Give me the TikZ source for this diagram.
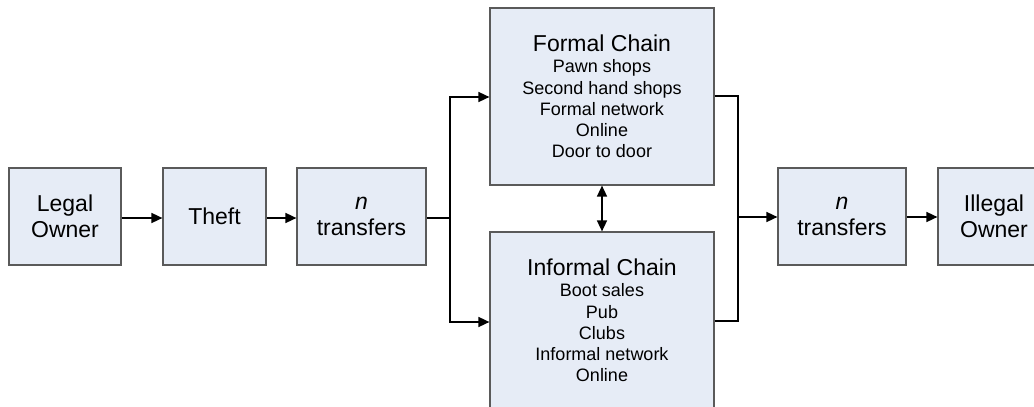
\documentclass[tikz,border=0pt]{standalone}
\usepackage{fontspec}
\setmainfont{Liberation Sans}
\usetikzlibrary{positioning,arrows.meta,calc}
\definecolor{boxfill}{RGB}{230,236,246}
\definecolor{boxline}{RGB}{90,90,90}

\begin{document}
\begin{tikzpicture}[x=1pt,y=-1pt,>={Triangle[length=11pt,width=10pt]},
  stage/.style={draw=boxline,line width=1.2pt,fill=boxfill,align=center,inner sep=0pt,
    minimum height=97pt,font=\fontsize{23}{26.5}\selectfont},
  chain/.style={draw=boxline,line width=1.2pt,fill=boxfill,align=center,inner sep=0pt,
    minimum width=224pt,minimum height=177pt,font=\fontsize{18}{21.2}\selectfont},
  link/.style={->,line width=1.6pt}]
\useasboundingbox (0,0) rectangle (1034,407);
\clip (0,0) rectangle (1034,407);
\node[stage,minimum width=112pt] (legal) at (65,216.5) {Legal\\Owner};
\node[stage,minimum width=103pt] (theft) at (214.5,216.5) {Theft};
\node[stage,minimum width=129pt] (tin) at (361.5,216.5) {\textit{n}\\transfers};
\node[chain] (formal) at (602,96.5) {{\fontsize{23}{22}\selectfont Formal Chain}\\Pawn shops\\Second hand shops\\Formal network\\Online\\Door to door};
\node[chain] (informal) at (602,320.5) {{\fontsize{23}{22}\selectfont Informal Chain}\\Boot sales\\Pub\\Clubs\\Informal network\\Online};
\node[stage,minimum width=128pt] (tout) at (842,216.5) {\textit{n}\\transfers};
\node[stage,minimum width=112pt] (illegal) at (994,216.5) {Illegal\\Owner};
% junctions
\coordinate (split) at (450,218);
\coordinate (merge) at (738,217);
\draw[link] (legal.east |- 0,218) -- (theft.west |- 0,218);
\draw[link] (theft.east |- 0,218) -- (tin.west |- 0,218);
\draw[line width=1.6pt] (tin.east |- split) -- (split);
\draw[link] (split) |- (formal.west |- 0,97);
\draw[link] (split) |- (informal.west |- 0,322);
\draw[line width=1.6pt] (formal.east |- 0,96) -| (merge);
\draw[line width=1.6pt] (informal.east |- 0,321) -| (merge);
\draw[link] (merge) -- (tout.west |- merge);
\draw[link] (tout.east |- merge) -- (illegal.west |- merge);
\draw[<->,line width=1.6pt] (formal.south) -- (informal.north);
\end{tikzpicture}
\end{document}
